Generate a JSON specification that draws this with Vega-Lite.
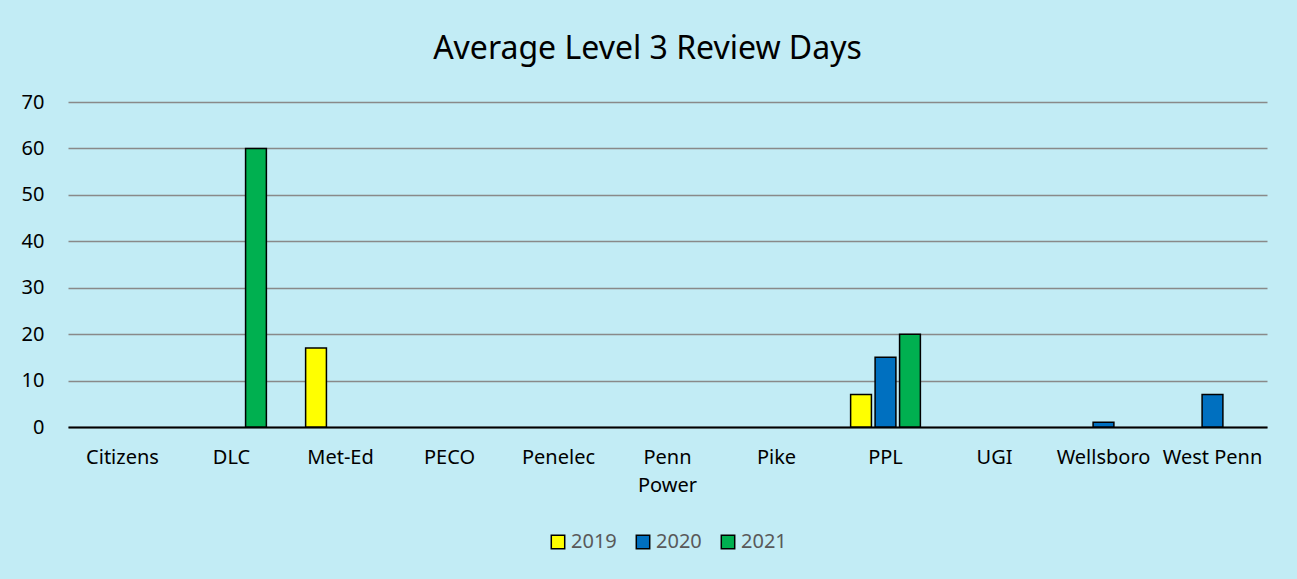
{
  "$schema": "https://vega.github.io/schema/vega-lite/v6.json",
  "autosize": {"type": "none"},
  "width": 1199,
  "height": 325,
  "padding": {"left": 68, "top": 102, "right": 30, "bottom": 152},
  "background": "#C2ECF5",
  "title": {
    "text": "Average Level 3 Review Days",
    "font": "Noto Sans",
    "fontSize": 32,
    "fontWeight": "normal",
    "color": "#000000",
    "anchor": "middle",
    "dx": -20,
    "offset": 26
  },
  "data": {
    "values": [
      {"company": "DLC", "year": "2021", "days": 60},
      {"company": "Met-Ed", "year": "2019", "days": 17},
      {"company": "PPL", "year": "2019", "days": 7},
      {"company": "PPL", "year": "2020", "days": 15},
      {"company": "PPL", "year": "2021", "days": 20},
      {"company": "Wellsboro", "year": "2020", "days": 1},
      {"company": "West Penn", "year": "2020", "days": 7}
    ]
  },
  "mark": {"type": "bar", "stroke": "#000000", "strokeWidth": 1.5},
  "encoding": {
    "x": {
      "field": "company",
      "type": "nominal",
      "sort": null,
      "scale": {
        "domain": ["Citizens", "DLC", "Met-Ed", "PECO", "Penelec", "Penn Power", "Pike", "PPL", "UGI", "Wellsboro", "West Penn"],
        "paddingInner": 0.36,
        "paddingOuter": 0.18
      },
      "axis": {
        "title": null,
        "labelAngle": 0,
        "labelFont": "Noto Sans",
        "labelFontSize": 20,
        "labelColor": "#000000",
        "labelPadding": 20,
        "labelLineHeight": 28,
        "labelExpr": "datum.label == 'Penn Power' ? ['Penn', 'Power'] : datum.label",
        "ticks": false,
        "domainColor": "#000000",
        "domainWidth": 2,
        "grid": false
      }
    },
    "xOffset": {
      "field": "year",
      "type": "nominal",
      "scale": {"domain": ["2019", "2020", "2021"], "paddingInner": 0.15, "paddingOuter": 0}
    },
    "y": {
      "field": "days",
      "type": "quantitative",
      "scale": {"domain": [0, 70], "nice": false},
      "axis": {
        "title": null,
        "values": [0, 10, 20, 30, 40, 50, 60, 70],
        "labelFont": "Noto Sans",
        "labelFontSize": 20,
        "labelColor": "#000000",
        "labelPadding": 24,
        "ticks": false,
        "domain": false,
        "grid": true,
        "gridColor": "#898989",
        "gridWidth": 1.5
      }
    },
    "color": {
      "field": "year",
      "type": "nominal",
      "scale": {"domain": ["2019", "2020", "2021"], "range": ["#FFFF00", "#0070C0", "#00B050"]},
      "legend": {
        "title": null,
        "orient": "bottom",
        "direction": "horizontal",
        "offset": 37,
        "symbolType": "square",
        "symbolSize": 180,
        "symbolStrokeColor": "#000000",
        "symbolStrokeWidth": 1.5,
        "labelFont": "Noto Sans",
        "labelFontSize": 20,
        "labelColor": "#595959",
        "columnPadding": 16,
        "labelOffset": 3
      }
    }
  },
  "config": {
    "view": {"stroke": null},
    "legend": {"layout": {"bottom": {"anchor": "middle"}}}
  }
}
